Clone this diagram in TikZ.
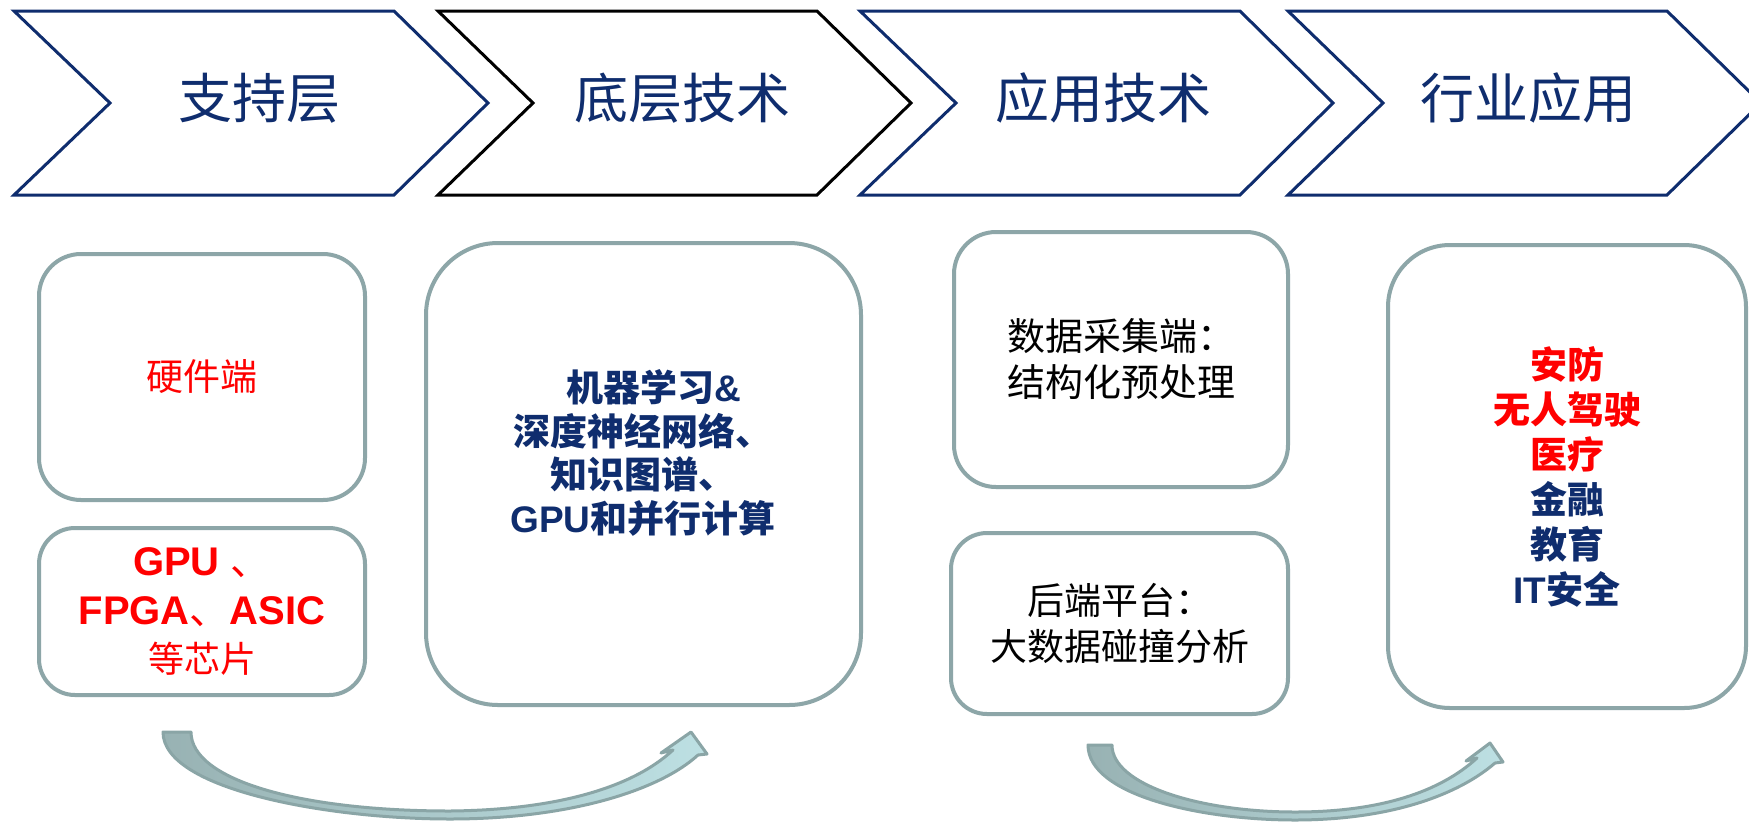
\documentclass[tikz,border=0pt]{standalone}
\usepackage{fontspec}
\setmainfont{Liberation Sans}
\newfontfamily\cjk{Noto Sans CJK SC}
\newfontfamily\lat{Liberation Sans}
\definecolor{navy}{HTML}{0F2D6E}
\definecolor{boxline}{HTML}{8DA6A8}
\definecolor{arrowline}{HTML}{8AA5A6}
\definecolor{arrowdark}{HTML}{98B2B3}
\definecolor{arrowlight}{HTML}{BDE0E3}
\tikzset{
  chev/.style={draw=navy, line width=3pt, line join=miter},
  title/.style={text=navy, font=\cjk\fontsize{54}{60}\selectfont, inner sep=0pt},
  box/.style={draw=boxline, line width=4pt, rounded corners=#1, inner sep=0pt, align=center},
  box/.default=40pt,
  flowarrow/.style={draw=arrowline, line width=3pt, line join=round, left color=arrowdark, right color=arrowlight},
}
\begin{document}
\begin{tikzpicture}[x=1pt, y=-1pt]
\useasboundingbox[fill=white] (0,0) rectangle (1749,823);

% process chevrons
\draw[chev] (14,11) -- (394,11) -- (488,103) -- (394,195) -- (14,195) -- (110,103) -- cycle;
\draw[chev, draw=black] (438,11) -- (817,11) -- (911,103) -- (817,195) -- (438,195) -- (533,103) -- cycle;
\draw[chev] (860,11) -- (1240,11) -- (1333,103) -- (1240,195) -- (860,195) -- (956,103) -- cycle;
\draw[chev] (1288,11) -- (1667,11) -- (1761,103) -- (1667,195) -- (1288,195) -- (1383,103) -- cycle;

\node[title] (t1) at (259,98) {支持层};
\node[title] (t2) at (682,98) {底层技术};
\node[title] (t3) at (1103,98) {应用技术};
\node[title] (t4) at (1528,98) {行业应用};

% support layer
\node[box=42pt, minimum width=326pt, minimum height=246pt, text=red,
      font=\cjk\fontsize{37}{44}\selectfont] (hw) at (202,377) {硬件端};
\node[box=36pt, minimum width=326pt, minimum height=167pt, text=red,
      font=\lat\bfseries\fontsize{40}{48.5}\selectfont] (chips) at (202,611.5)
      {GPU {\cjk\mdseries 、}\\FPGA{\cjk\mdseries 、}ASIC\\{\cjk\mdseries\fontsize{36}{48.5}\selectfont 等芯片}};

% base technology
\node[box=72pt, minimum width=435pt, minimum height=462pt] (base) at (643.5,474) {};
\node[text=navy, align=center, inner sep=0pt,
      font=\cjk\bfseries\fontsize{37}{43.5}\selectfont] (basetxt) at (643,453)
      {\hspace{0.6em}机器学习{\lat\bfseries\&}\\深度神经网络、\\知识图谱、\\{\lat\bfseries GPU}和并行计算};

% application technology
\node[box=42pt, minimum width=334pt, minimum height=255pt, text=black,
      font=\cjk\fontsize{38}{46}\selectfont] (collect) at (1121,359.5)
      {数据采集端：\\结构化预处理};
\node[box=36pt, minimum width=337pt, minimum height=181pt, text=black,
      font=\cjk\fontsize{37}{46}\selectfont] (backend) at (1119.5,623.5)
      {后端平台：\\大数据碰撞分析};

% industry applications
\node[box=62pt, minimum width=358pt, minimum height=463pt,
      font=\cjk\bfseries\fontsize{37}{45}\selectfont] (apps) at (1567,476.5)
      {\textcolor{red}{安防}\\\textcolor{red}{无人驾驶}\\\textcolor{red}{医疗}\\
       \textcolor{navy}{金融}\\\textcolor{navy}{教育}\\\textcolor{navy}{{\lat\bfseries IT}安全}};

% curved flow arrows (tapering band with an arrow head)
\coordinate (a1tail) at (177,732);
\coordinate (a1tip) at (691,732);
\draw[flowarrow] (163,732) .. controls (163,790) and (330,819) .. (450,819)
  .. controls (570,819) and (660,790) .. (698,755)
  -- (707,754) -- (691,732) -- (661,753) -- (673,750)
  .. controls (630,790) and (550,810) .. (450,811)
  .. controls (300,811) and (191,780) .. (191,732) -- cycle;

\coordinate (a2tail) at (1100,745);
\coordinate (a2tip) at (1490,743);
\draw[flowarrow] (1088,745) .. controls (1088,795) and (1200,820) .. (1295,820)
  .. controls (1390,820) and (1458,795) .. (1495,763)
  -- (1503,762) -- (1490,743) -- (1466,761) -- (1477,758)
  .. controls (1440,792) and (1380,812) .. (1295,812)
  .. controls (1200,812) and (1112,785) .. (1112,745) -- cycle;
\end{tikzpicture}
\end{document}
